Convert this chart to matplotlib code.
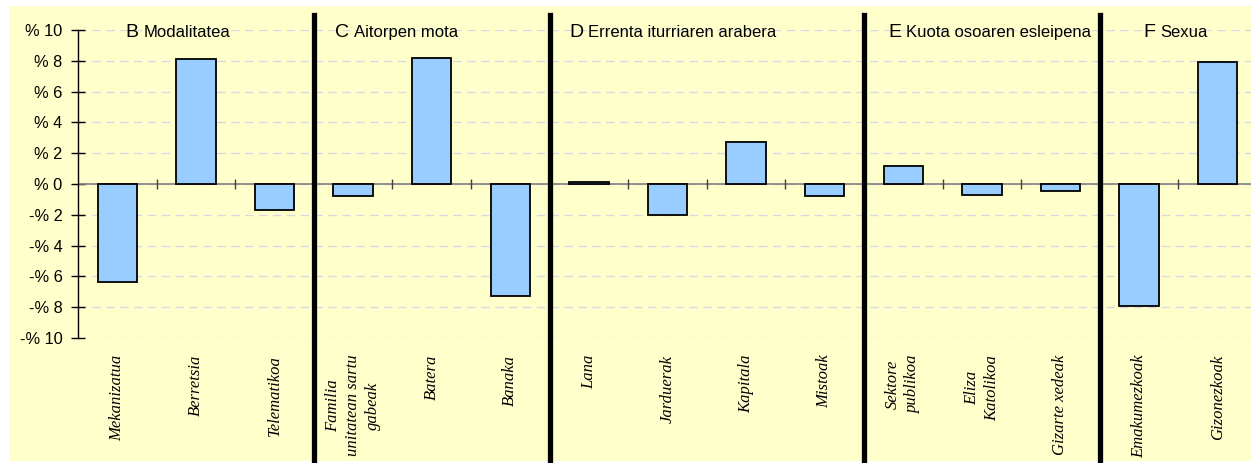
import numpy as np
from matplotlib import pyplot as plt
from matplotlib.patches import Rectangle

# categories, grouped
groups = ["B", "C", "D", "E", "F"]
group_names = ["Modalitatea", "Aitorpen mota", "Errenta iturriaren arabera",
               "Kuota osoaren esleipena", "Sexua"]
group_sizes = [3, 3, 4, 3, 2]
group_title_offset = [0.6, 0.27, 0.25, 0.31, 0.55]

labels = ["Mekanizatua", "Berretsia", "Telematikoa",
          "Familia\nunitatean sartu\ngabeak", "Batera", "Banaka",
          "Lana", "Jarduerak", "Kapitala", "Mistoak",
          "Sektore\npublikoa", "Eliza\nKatolikoa", "Gizarte xedeak",
          "Emakumezkoak", "Gizonezkoak"]
values = [-6.35, 8.1, -1.7,
          -0.8, 8.2, -7.3,
          0.1, -2.0, 2.75, -0.8,
          1.2, -0.7, -0.45,
          -7.9, 7.9]

yticks = [10, 8, 6, 4, 2, 0, -2, -4, -6, -8, -10]
ytick_labels = ["% 10", "% 8", "% 6", "% 4", "% 2", "% 0",
                "-% 2", "-% 4", "-% 6", "-% 8", "-% 10"]

W, H = 1251, 463
fig = plt.figure(figsize=(W/100, H/100), dpi=100)
bg = Rectangle((9/W, 2/H), 1 - 9/W, 455/H, transform=fig.transFigure,
               facecolor="#FFFFCC", edgecolor="none", zorder=-10)
fig.patches.append(bg)

ax = fig.add_axes([78/W, 1 - 338/H, 1179/W, 308/H])
ax.set_facecolor("none")
x = np.arange(len(values))
ax.set_xlim(-0.5, len(values) - 0.5)
ax.set_ylim(-10, 10)

for y in yticks:
    ax.axhline(y, color="#D8D8E2", lw=1, linestyle=(0, (6, 4)), zorder=1)
ax.axhline(0, color="#808080", lw=1.2, zorder=2)

ax.bar(x, values, width=0.5, color="#99CCFF", edgecolor="black", linewidth=1.3, zorder=3)

# small ticks on the zero line
bounds = np.arange(0.5, len(values) - 0.5, 1)
ax.vlines(bounds, -0.3, 0.3, color="#404040", lw=1, zorder=2)

# group separators and titles
fig.canvas.draw()
renderer = fig.canvas.get_renderer()
start = 0
for g, name, n, off in zip(groups, group_names, group_sizes, group_title_offset):
    if start > 0:
        ax.axvline(start - 0.5, ymin=-0.396, ymax=1.049, color="black", lw=3.8,
                   clip_on=False, zorder=4)
    t = ax.text(start - 0.5 + off, 9.55, g, fontsize=14, family="Liberation Sans",
                va="baseline", ha="left", zorder=5)
    right = t.get_window_extent(renderer).x1
    xr = ax.transData.inverted().transform((right + 5, 0))[0]
    ax.text(xr, 9.55, name, va="baseline", ha="left",
            fontsize=12, family="Liberation Sans", zorder=5)
    start += n

for s in ["top", "right", "bottom"]:
    ax.spines[s].set_visible(False)
ax.spines["left"].set_linewidth(1)

ax.set_yticks(yticks)
ax.set_yticklabels(ytick_labels, family="Liberation Sans", fontsize=11.8)
ax.tick_params(axis="y", direction="inout", length=10, width=1, pad=6)

ax.set_xticks(x)
ax.set_xticklabels(labels, rotation=90, family="Liberation Serif", style="italic",
                   fontsize=12, linespacing=1.35)
ax.tick_params(axis="x", length=0, pad=12)

plt.savefig("out.png", dpi=100)
